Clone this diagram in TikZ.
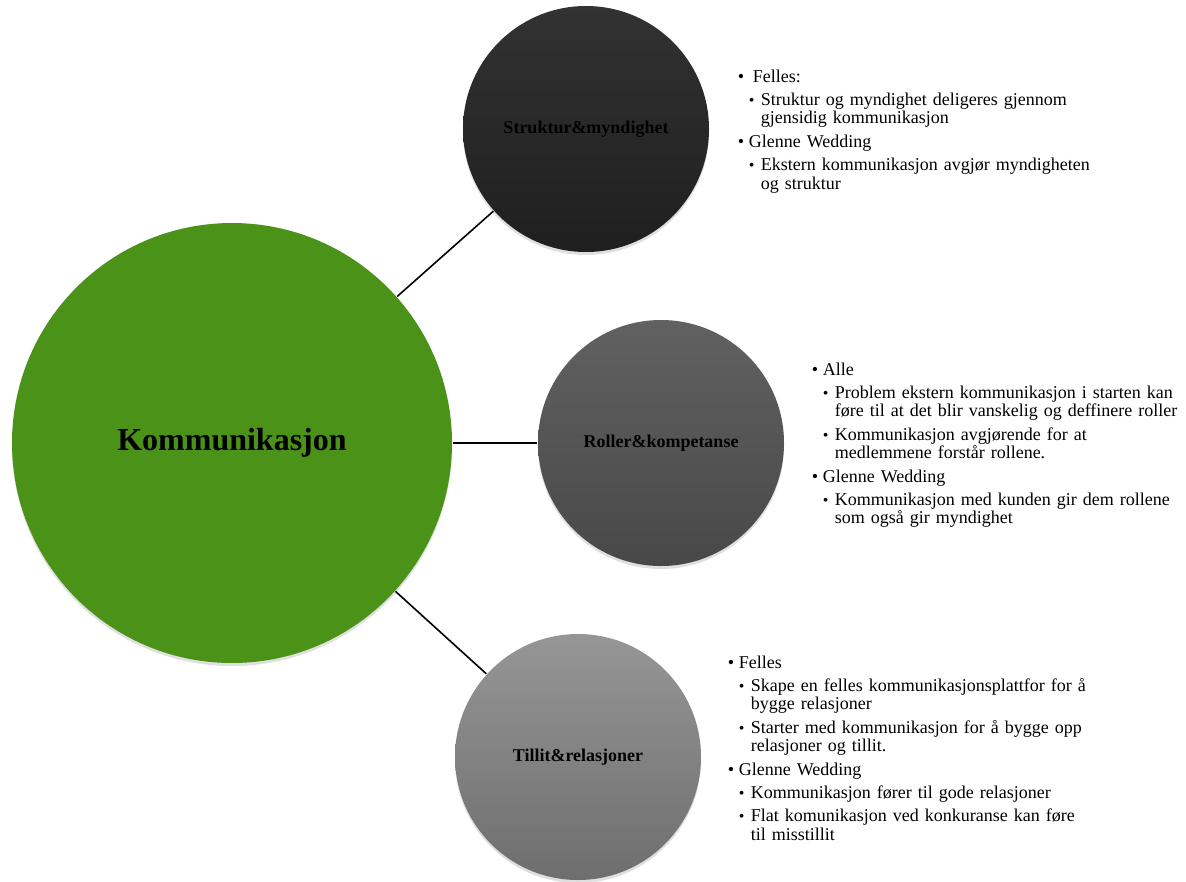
\documentclass[tikz,border=0pt]{standalone}
\usepackage{fontspec}
\setmainfont{Liberation Serif}
\usepackage{tikz}
\usetikzlibrary{shadows}
\definecolor{colorCore}{HTML}{4A9218}
\definecolor{colorStrukturTop}{HTML}{323232}
\definecolor{colorStrukturBottom}{HTML}{1F1F1F}
\definecolor{colorRollerTop}{HTML}{616161}
\definecolor{colorRollerBottom}{HTML}{484848}
\definecolor{colorTillitTop}{HTML}{969696}
\definecolor{colorTillitBottom}{HTML}{6E6E6E}
\newcommand{\itemTop}[1]{\par\hangindent=11pt\hangafter=1\noindent\makebox[11pt][l]{\textbullet}#1\par}
\newcommand{\itemSub}[1]{\par\hangindent=23pt\hangafter=1\noindent\hspace*{11pt}\makebox[12pt][l]{\fontsize{16}{16}\selectfont\textbullet}#1\par}

\begin{document}
\begin{tikzpicture}[x=1pt, y=-1pt, line width=1.6pt,
  hub/.style={circle, inner sep=0pt, minimum size=440pt, fill=colorCore, font=\bfseries\fontsize{32}{32}\selectfont, drop shadow={opacity=0.25, shadow xshift=0pt, shadow yshift=-3pt}},
  topic/.style={circle, inner sep=0pt, minimum size=246pt, font=\bfseries\fontsize{18}{18}\selectfont, drop shadow={opacity=0.25, shadow xshift=0pt, shadow yshift=-3pt}},
  notes/.style={anchor=north west, inner sep=0pt, text width=440pt, align=left, font=\fontsize{18}{18.5}\selectfont, execute at begin node={\setlength{\parskip}{4.8pt}}}]
\useasboundingbox (0,0) rectangle (1186,881);
\node[hub] (komm) at (232,443) {Kommunikasjon};
\node[topic, top color=colorStrukturTop, bottom color=colorStrukturBottom] (struktur) at (586,129) {Struktur\&myndighet};
\node[topic, top color=colorRollerTop, bottom color=colorRollerBottom] (roller) at (661,443) {Roller\&kompetanse};
\node[topic, top color=colorTillitTop, bottom color=colorTillitBottom] (tillit) at (578,757) {Tillit\&relasjoner};
\draw (komm) -- (struktur);
\draw (komm) -- (roller);
\draw (komm) -- (tillit);
% notes beside each topic
\node[notes] (notesStruktur) at (737,58) {%
\itemTop{\hspace{4pt}Felles:}
\itemSub{Struktur og myndighet deligeres gjennom\newline gjensidig kommunikasjon}
\itemTop{Glenne Wedding}
\itemSub{Ekstern kommunikasjon avgjør myndigheten\newline og struktur}};
\node[notes] (notesRoller) at (811,351) {%
\itemTop{Alle}
\itemSub{Problem ekstern kommunikasjon i starten kan\newline føre til at det blir vanskelig og deffinere roller}
\itemSub{Kommunikasjon avgjørende for at\newline medlemmene forstår rollene.}
\itemTop{Glenne Wedding}
\itemSub{Kommunikasjon med kunden gir dem rollene\newline som også gir myndighet}};
\node[notes] (notesTillit) at (727,644) {%
\itemTop{Felles}
\itemSub{Skape en felles kommunikasjonsplattfor for å\newline bygge relasjoner}
\itemSub{Starter med kommunikasjon for å bygge opp\newline relasjoner og tillit.}
\itemTop{Glenne Wedding}
\itemSub{Kommunikasjon fører til gode relasjoner}
\itemSub{Flat komunikasjon ved konkuranse kan føre\newline til misstillit}};
\end{tikzpicture}
\end{document}
